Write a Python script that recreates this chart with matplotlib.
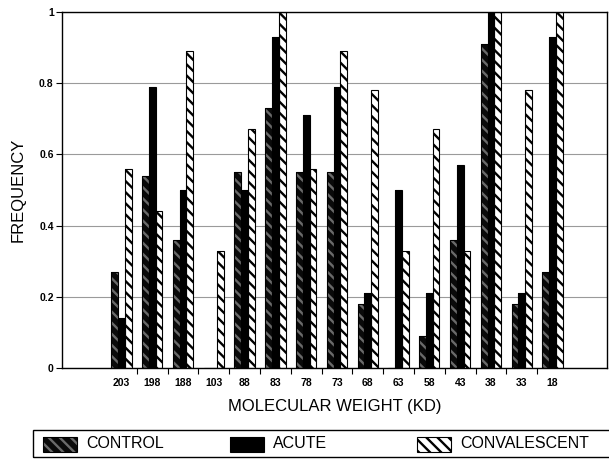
import matplotlib
matplotlib.use('Agg')
import matplotlib.pyplot as plt
from matplotlib.patches import Rectangle
import numpy as np

plt.rcParams['font.family'] = ['Liberation Sans', 'DejaVu Sans']
plt.rcParams['hatch.linewidth'] = 1.7

# molecular weight bands (KD) and frequency per group
weights = ['203', '198', '188', '103', '88', '83', '78', '73', '68', '63', '58', '43', '38', '33', '18']
control = [0.27, 0.54, 0.36, 0.0, 0.55, 0.73, 0.55, 0.55, 0.18, 0.0, 0.09, 0.36, 0.91, 0.18, 0.27]
acute = [0.14, 0.79, 0.50, 0.0, 0.50, 0.93, 0.71, 0.79, 0.21, 0.50, 0.21, 0.57, 1.0, 0.21, 0.93]
convalescent = [0.56, 0.44, 0.89, 0.33, 0.67, 1.0, 0.56, 0.89, 0.78, 0.33, 0.67, 0.33, 1.0, 0.78, 1.0]

# look of each series: face, hatch colour, hatch pattern
styles = {
    'CONTROL': ('#0a0a0a', '#6a6a6a', '\\\\\\'),
    'ACUTE': ('#000000', '#000000', ''),
    'CONVALESCENT': ('#ffffff', '#000000', '\\\\\\'),
}

fig = plt.figure(figsize=(6.09, 4.66), dpi=100)
ax = fig.add_axes([62/609, 1 - 368/466, (607 - 62)/609, (368 - 12)/466])

x = np.arange(len(weights))
w = 0.22
series = [('CONTROL', control), ('ACUTE', acute), ('CONVALESCENT', convalescent)]
for k, (name, vals) in enumerate(series):
    face, hc, hatch = styles[name]
    pos = x + (k - 1) * w
    ax.bar(pos, vals, w, color=face, edgecolor=hc, hatch=hatch, linewidth=0, zorder=2)
    ax.bar(pos, vals, w, fill=False, edgecolor='black', linewidth=0.8, zorder=3)

ax.set_xlim(-1.93, 15.77)
ax.set_ylim(0, 1)
ax.set_yticks([0, 0.2, 0.4, 0.6, 0.8, 1.0])
ax.set_yticklabels(['0', '0.2', '0.4', '0.6', '0.8', '1'], fontsize=7.5, fontweight='bold')
ax.set_xticks(x)
ax.set_xticklabels(weights, fontsize=7.5, fontweight='bold')
ax.set_xticks(x[:-1] + 0.5, minor=True)
ax.tick_params(axis='x', which='major', length=0, pad=7)
ax.tick_params(axis='x', which='minor', length=4, width=0.8)
ax.tick_params(axis='y', length=4, width=0.8, pad=2)
ax.grid(axis='y', color='#9a9a9a', linewidth=0.8, zorder=0)
ax.set_axisbelow(True)
for s in ax.spines.values():
    s.set_linewidth(1.0)

ax.set_xlabel('MOLECULAR WEIGHT (KD)', fontsize=12, labelpad=8)
ax.set_ylabel('FREQUENCY', fontsize=12, labelpad=10)

# legend box drawn at the bottom of the figure
def fx(px):
    return px / 609

def fy(py):
    return 1 - py / 466

fig.patches.append(Rectangle((fx(33), fy(457)), fx(640) - fx(33), fy(430) - fy(457),
                             transform=fig.transFigure, fill=False, edgecolor='black', linewidth=1.0))
entries = [('CONTROL', 43), ('ACUTE', 230), ('CONVALESCENT', 417)]
for name, px in entries:
    face, hc, hatch = styles[name]
    fig.patches.append(Rectangle((fx(px), fy(452)), fx(34), 15/466, transform=fig.transFigure,
                                 facecolor=face, edgecolor=hc, hatch=hatch, linewidth=0))
    fig.patches.append(Rectangle((fx(px), fy(452)), fx(34), 15/466, transform=fig.transFigure,
                                 fill=False, edgecolor='black', linewidth=0.8))
    fig.text(fx(px + 43), fy(444), name, fontsize=11.5, va='center', ha='left')

fig.savefig('out.png', dpi=100)
